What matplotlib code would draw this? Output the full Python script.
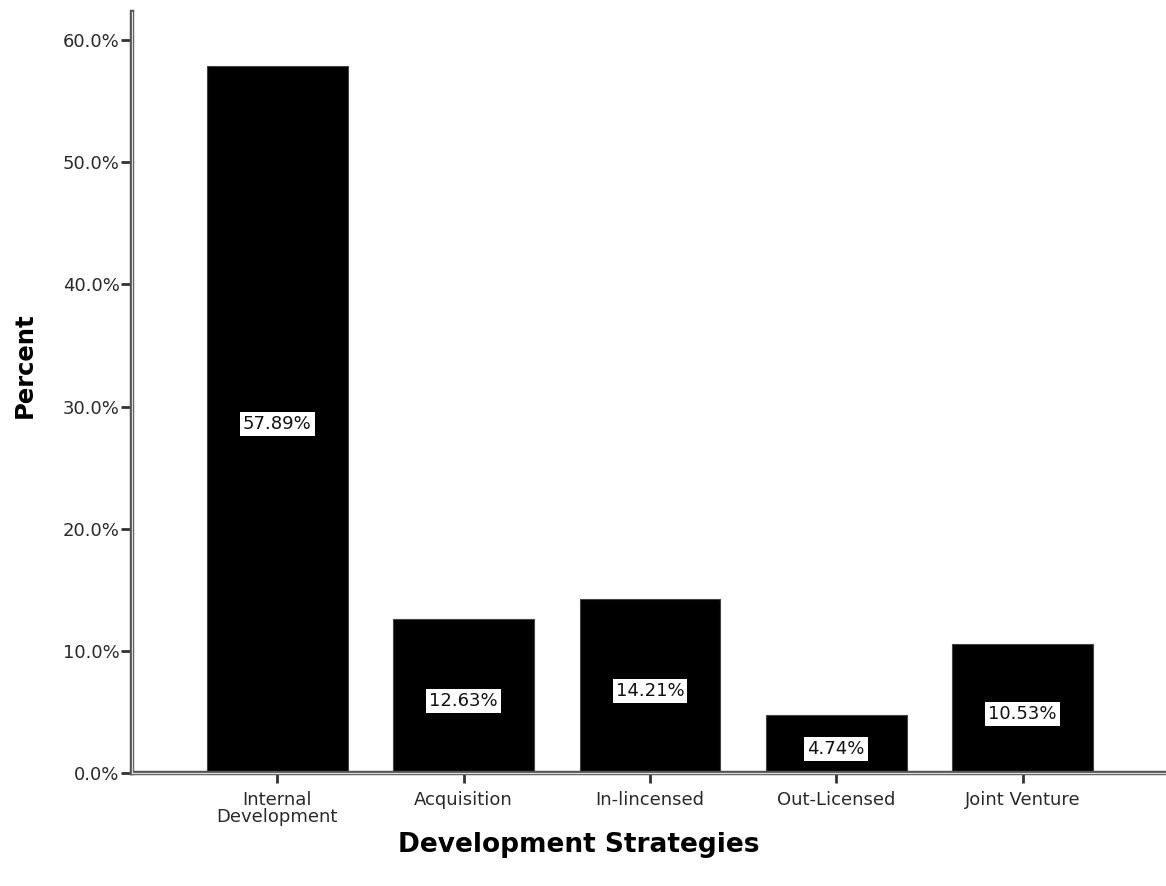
import numpy as np
from matplotlib import pyplot as plt
from matplotlib.ticker import FuncFormatter

categories = ["Internal\nDevelopment", "Acquisition", "In-lincensed", "Out-Licensed", "Joint Venture"]
percents = [57.89, 12.63, 14.21, 4.74, 10.53]
bar_labels = ["57.89%", "12.63%", "14.21%", "4.74%", "10.53%"]

plt.rcParams['font.family'] = ['DejaVu Sans']

fig = plt.figure(figsize=(11.66, 8.86), dpi=100)
ax = fig.add_axes([0.1132, 0.1275, 0.8868, 0.859])

x = np.arange(len(categories))
bars = ax.bar(x, percents, width=0.756, color='black', edgecolor='#444444', linewidth=0.8, zorder=2)

for bar, lab in zip(bars, bar_labels):
    h = bar.get_height()
    ax.annotate(lab, xy=(bar.get_x() + bar.get_width() / 2, h / 2),
                xytext=(0, -3.5), textcoords='offset points',
                ha='center', va='center', fontsize=13, color='#111111', zorder=3,
                bbox=dict(facecolor='white', edgecolor='none', pad=2.2))

ax.set_xlim(-0.78, 4.77)
ax.set_ylim(0, 62.3)
ax.set_yticks(np.arange(0, 61, 10))
ax.yaxis.set_major_formatter(FuncFormatter(lambda v, p: f"{v:.1f}%"))
ax.set_xticks(x)
ax.set_xticklabels(categories, fontsize=13, linespacing=0.95)

ax.spines['top'].set_visible(False)
ax.spines['right'].set_visible(False)
for s in ['left', 'bottom']:
    ax.spines[s].set_linewidth(3.2)
    ax.spines[s].set_color('#555555')
    ax.spines[s].set_zorder(4)

# light inner line to give the doubled axis look
ax.axvline(-0.78, color='#dddddd', linewidth=0.9, zorder=5, clip_on=False)
ax.axhline(0, color='#dddddd', linewidth=0.9, zorder=5, clip_on=False)

ax.tick_params(axis='y', direction='out', length=8, width=2, color='#333333', labelsize=13,
               labelcolor='#2a2a2a', pad=1)
ax.tick_params(axis='x', direction='out', length=7, width=2, color='#333333', labelsize=13,
               labelcolor='#2a2a2a', pad=6)

ax.set_ylabel("Percent", fontsize=17.5, fontweight='bold')
ax.set_xlabel("Development Strategies", fontsize=19, fontweight='bold')
ax.yaxis.set_label_coords(-0.092, 0.536)
ax.xaxis.set_label_coords(0.432, -0.077)

fig.savefig("out.png", dpi=100)
